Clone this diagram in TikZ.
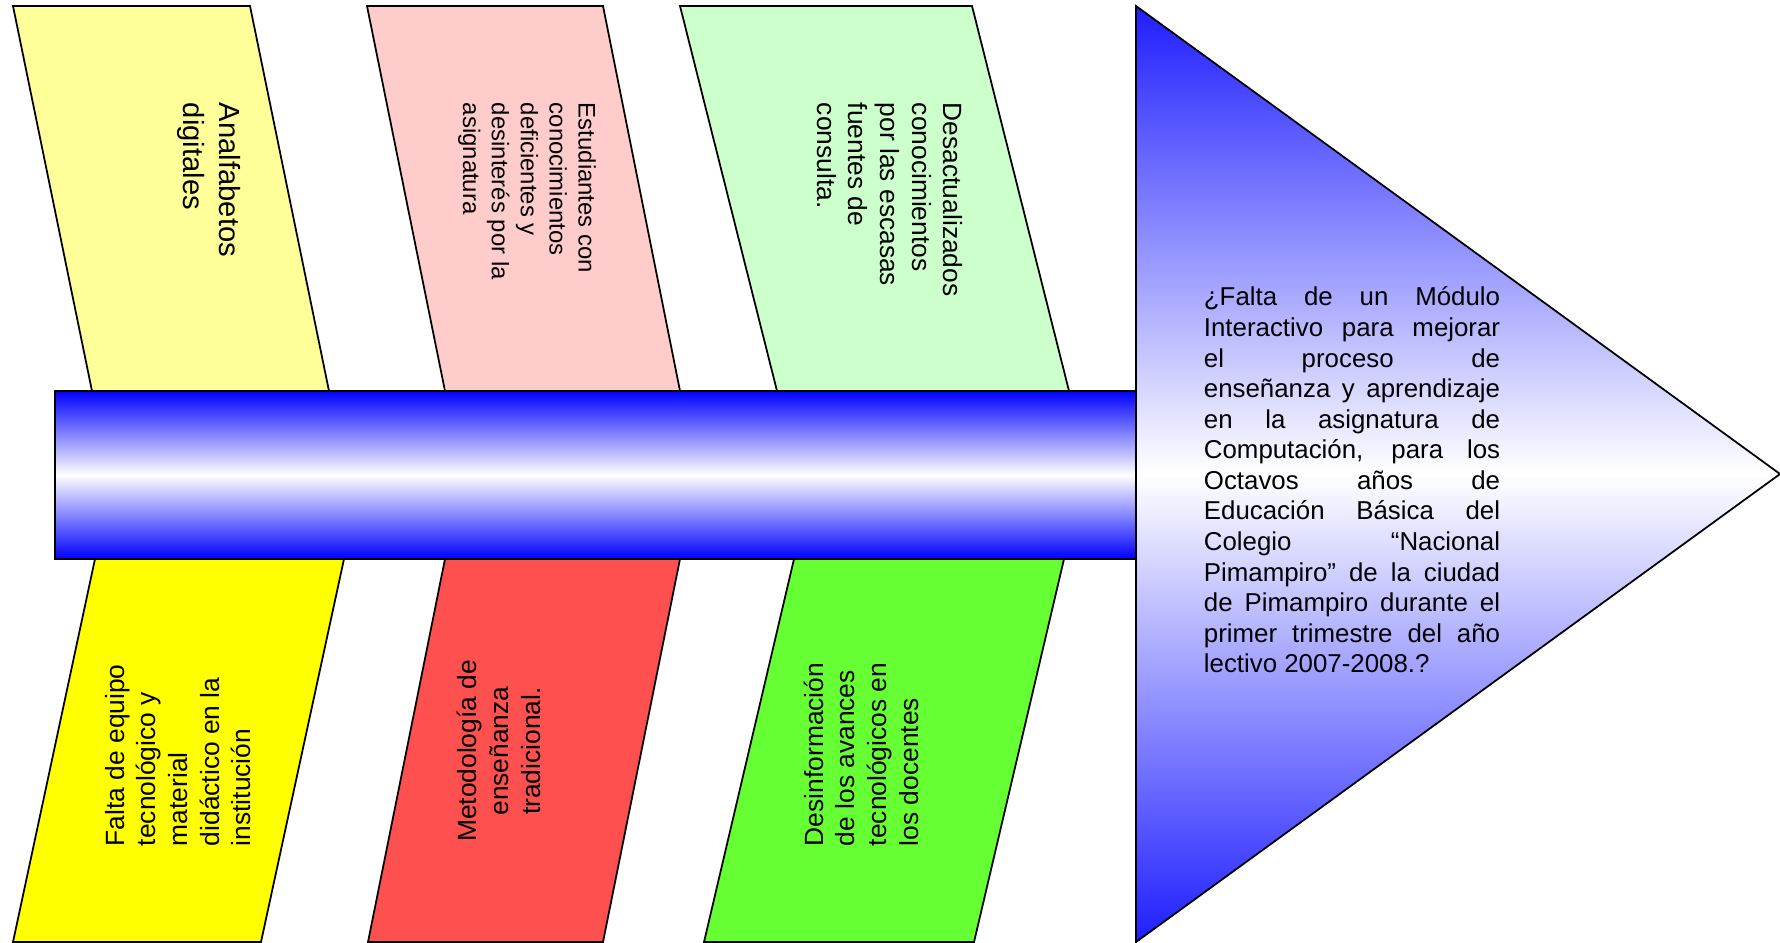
\documentclass[tikz,border=0pt]{standalone}
\usepackage{fontspec}
\setmainfont{Liberation Sans}

\definecolor{amarilloclaro}{RGB}{255,255,153}
\definecolor{rosado}{RGB}{255,204,204}
\definecolor{verdeclaro}{RGB}{204,255,204}
\definecolor{amarillo}{RGB}{255,255,0}
\definecolor{rojo}{RGB}{255,80,80}
\definecolor{verde}{RGB}{102,255,51}
\definecolor{azul}{RGB}{0,0,255}
\definecolor{azulflecha}{RGB}{30,30,255}

\begin{document}
\begin{tikzpicture}[x=0.01cm, y=-0.01cm, line width=0.5pt,
    causa/.style={inner sep=0pt, align=left, font=\fontsize{7.5}{9}\selectfont}]
  \useasboundingbox (0,0) rectangle (1780,942);
  % causas de arriba
  \draw[fill=amarilloclaro] (13,6) -- (250,6) -- (329,391) -- (92,391) -- cycle; % Causa 1
  \draw[fill=rosado] (367,6) -- (603,6) -- (680,391) -- (445,391) -- cycle; % Causa 2
  \draw[fill=verdeclaro] (680,6) -- (972,6) -- (1069,391) -- (777,391) -- cycle; % Causa 3
  % causas de abajo
  \draw[fill=amarillo] (95,559) -- (344,559) -- (261,942) -- (13,942) -- cycle; % Causa 4
  \draw[fill=rojo] (445,559) -- (680,559) -- (603,942) -- (368,942) -- cycle; % Causa 5
  \draw[fill=verde] (794,559) -- (1064,559) -- (974,942) -- (704,942) -- cycle; % Causa 6
  % espina y cabeza
  \shadedraw[top color=azul, bottom color=azul, middle color=white] (55,391) rectangle (1136,559); % Espina
  \shadedraw[top color=azulflecha, bottom color=azulflecha, middle color=white] (1136,6) -- (1780,474) -- (1136,942) -- cycle; % Cabeza
  % textos
  \node[causa, rotate=-90, anchor=west, font=\fontsize{8.3}{10}\selectfont] (analfabetos) at (209,102) {Analfabetos\\digitales};
  \node[causa, rotate=-90, anchor=west, font=\fontsize{6.8}{8.2}\selectfont] (estudiantes) at (527,102) {Estudiantes con\\conocimientos\\deficientes y\\desinterés por la\\asignatura};
  \node[causa, rotate=-90, anchor=west] (desactualizados) at (890,102) {Desactualizados\\conocimientos\\por las escasas\\fuentes de\\consulta.};
  \node[causa, rotate=90, anchor=west] (equipo) at (178,847) {Falta de equipo\\tecnológico y\\material\\didáctico en la\\institución};
  \node[causa, rotate=90, align=center] (metodologia) at (499,751) {Metodología de\\enseñanza\\tradicional.};
  \node[causa, rotate=90, anchor=west] (desinformacion) at (861,847) {Desinformación\\de los avances\\tecnológicos en\\los docentes};
  \node[inner sep=0pt, text width=2.96cm, align=justify, font=\fontsize{7.35}{8.7}\selectfont] (problema) at (1352,480)
    {¿Falta de un Módulo\linebreak Interactivo para mejorar\linebreak el proceso de\linebreak enseñanza y aprendizaje\linebreak en la asignatura de\linebreak Computación, para los\linebreak Octavos años de\linebreak Educación Básica del\linebreak Colegio “Nacional\linebreak Pimampiro” de la ciudad\linebreak de Pimampiro durante el\linebreak primer trimestre del año\linebreak lectivo 2007-2008.?};
\end{tikzpicture}
\end{document}
